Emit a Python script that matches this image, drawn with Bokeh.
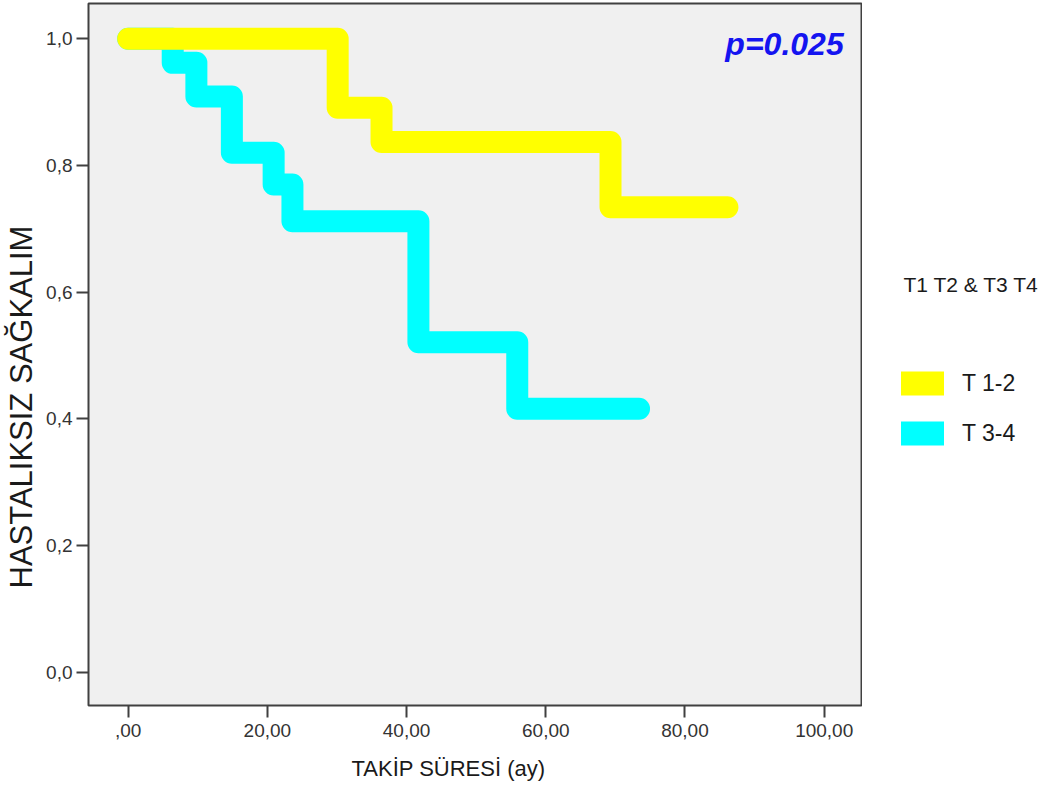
from bokeh.plotting import figure
from bokeh.models import Range1d, FixedTicker, Legend, LegendItem, Label, Title
from bokeh.layouts import row
from bokeh.embed import file_html
from bokeh.resources import INLINE

# Kaplan-Meier step data (time in months, survival proportion)
t12_time = [0.0, 30.1, 36.4, 69.3, 86.1]
t12_surv = [1.0, 0.891, 0.837, 0.734, 0.734]
t34_time = [0.0, 6.4, 9.8, 14.9, 20.9, 23.6, 41.7, 55.9, 73.4]
t34_surv = [1.0, 0.962, 0.909, 0.820, 0.770, 0.712, 0.521, 0.416, 0.416]

series_names = ["T 1-2", "T 3-4"]
legend_title = "T1 T2 & T3 T4"
x_ticks = [0, 20, 40, 60, 80, 100]
x_tick_labels = [",00", "20,00", "40,00", "60,00", "80,00", "100,00"]
y_ticks = [0.0, 0.2, 0.4, 0.6, 0.8, 1.0]
y_tick_labels = ["0,0", "0,2", "0,4", "0,6", "0,8", "1,0"]


def km_steps(t, s):
    xs, ys = [t[0]], [s[0]]
    for i in range(1, len(t)):
        xs += [t[i], t[i]]
        ys += [s[i - 1], s[i]]
    return xs, ys


x12, y12 = km_steps(t12_time, t12_surv)
x34, y34 = km_steps(t34_time, t34_surv)

FONT = "Liberation Sans"
TXT = "#1a1a1a"
YELLOW = "#ffff00"
CYAN = "#00ffff"

p = figure(width=862, height=802, output_backend="svg", toolbar_location=None,
           x_range=Range1d(-5.70, 105.36), y_range=Range1d(-0.0526, 1.0557),
           min_border_left=88, min_border_top=3, min_border_bottom=97, min_border_right=1)

p.background_fill_color = "#f0f0f0"
p.border_fill_color = "white"
p.outline_line_color = "#404040"
p.outline_line_width = 2
p.xgrid.grid_line_color = None
p.ygrid.grid_line_color = None

p.line(x34, y34, line_color=CYAN, line_width=22, line_join="round", line_cap="round")
p.line(x12, y12, line_color=YELLOW, line_width=22, line_join="round", line_cap="round")

for ax in (p.xaxis[0], p.yaxis[0]):
    ax.axis_line_color = None
    ax.major_tick_line_color = "#404040"
    ax.major_tick_line_width = 2
    ax.major_tick_in = 0
    ax.major_tick_out = 12
    ax.minor_tick_line_color = None
    ax.major_label_text_font = FONT
    ax.major_label_text_font_size = "19px"
    ax.major_label_text_color = "#333333"

p.xaxis.ticker = FixedTicker(ticks=x_ticks)
p.yaxis.ticker = FixedTicker(ticks=y_ticks)
p.xaxis.major_label_overrides = {k: v for k, v in zip(x_ticks, x_tick_labels)}
p.yaxis.major_label_overrides = {k: v for k, v in zip(y_ticks, y_tick_labels)}
p.xaxis.major_label_standoff = 6
p.yaxis.major_label_standoff = 4

# p-value
p.add_layout(Label(x=102.8, y=0.992, text="p=0.025", text_align="right",
                   text_baseline="alphabetic", text_font=FONT,
                   text_font_style="bold italic", text_font_size="32px",
                   text_color="#1414f0"))

# axis titles
p.add_layout(Title(text="TAKİP SÜRESİ (ay)", align="left", offset=263,
                   vertical_align="top",
                   text_font=FONT, text_font_style="normal", text_font_size="22px",
                   text_color=TXT, standoff=33), "below")
p.add_layout(Title(text="HASTALIKSIZ SAĞKALIM", align="left", offset=117,
                   vertical_align="top",
                   text_font=FONT, text_font_style="normal", text_font_size="31px",
                   text_color=TXT, standoff=6), "left")

# legend panel
lf = figure(width=181, height=802, output_backend="svg", toolbar_location=None,
            x_axis_type=None, y_axis_type=None,
            x_range=Range1d(0, 1), y_range=Range1d(0, 1),
            min_border_left=0, min_border_right=0, min_border_top=3, min_border_bottom=97)
lf.outline_line_color = None
lf.background_fill_color = "white"
lf.border_fill_color = "white"
lf.xgrid.grid_line_color = None
lf.ygrid.grid_line_color = None

d12 = lf.line(x12, y12, line_color=YELLOW, line_width=24, line_cap="round", visible=False)
d34 = lf.line(x34, y34, line_color=CYAN, line_width=24, line_cap="round", visible=False)

lf.add_layout(Label(x=41, y=421, x_units="screen", y_units="screen",
                    text=legend_title, text_align="left", text_baseline="alphabetic",
                    text_font=FONT, text_font_size="21px", text_color=TXT))

legend = Legend(items=[LegendItem(label=series_names[0], renderers=[d12]),
                       LegendItem(label=series_names[1], renderers=[d34])],
                location=(39, 256), orientation="vertical",
                glyph_width=43, glyph_height=32, label_height=32, spacing=18,
                label_standoff=18, padding=0, margin=0,
                border_line_color=None, background_fill_alpha=0,
                label_text_font=FONT, label_text_font_size="23px",
                label_text_color=TXT)
lf.add_layout(legend)

layout = row(p, lf, spacing=0)
open("out.html", "w").write(file_html(layout, INLINE))
